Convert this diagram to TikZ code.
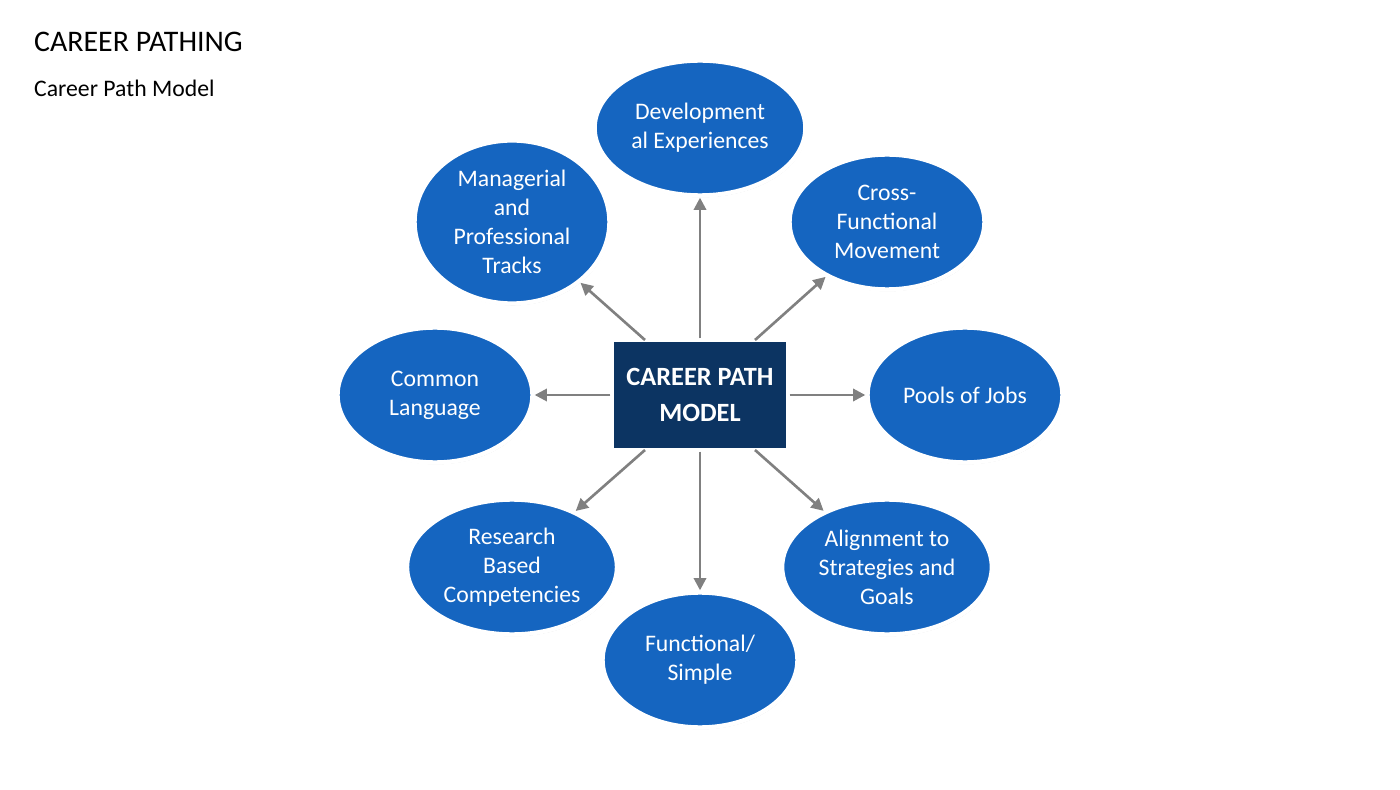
\documentclass[tikz,border=0pt]{standalone}
\usepackage{fontspec}
\setmainfont{Carlito}
\usetikzlibrary{shapes.geometric,arrows.meta,shadows}
\definecolor{ovalblue}{HTML}{1565C0}
\definecolor{boxnavy}{HTML}{0C3462}
\definecolor{arrowgrey}{HTML}{808080}
\tikzset{
  oval/.style={ellipse, draw=white, line width=2.5pt, fill=ovalblue,
    minimum width=3.9cm, minimum height=2.7cm, text=white, align=center,
    font=\fontsize{13.5}{16.5}\selectfont,
    drop shadow={shadow xshift=0.5pt, shadow yshift=-1pt, fill=black!45}},
  hub/.style={draw=white, line width=2pt, fill=boxnavy, minimum width=3.52cm,
    minimum height=2.2cm, text=white, align=center,
    font=\bfseries\fontsize{15}{20}\selectfont,
    drop shadow={shadow xshift=0.5pt, shadow yshift=-1pt, fill=black!45}},
  link/.style={->, >={Triangle[length=7pt,width=7pt]}, arrowgrey, line width=1.5pt}
}
\begin{document}
\begin{tikzpicture}[x=0.02cm,y=-0.02cm]
\useasboundingbox (0,0) rectangle (1400,790);
\node[anchor=west, font=\fontsize{17}{20}\selectfont] (title) at (28,42) {CAREER PATHING};
\node[anchor=west, font=\fontsize{13.5}{16}\selectfont] (sub) at (28,88) {Career Path Model};
\node[hub] (hub) at (700,395) {CAREER PATH\\MODEL};
\node[oval] (dev) at (700,128) {Development\\al Experiences};
\node[oval] (cross) at (887,222) {Cross-\\Functional\\Movement};
\node[oval] (pools) at (965,395) {Pools of Jobs};
\node[oval] (align) at (887,567) {Alignment to\\Strategies and\\Goals};
\node[oval] (func) at (700,660) {Functional/\\Simple};
\node[oval] (res) at (512,567) {Research\\Based\\Competencies};
\node[oval] (common) at (435,395) {Common\\Language};
\node[oval] (mgr) at (512,222) {Managerial\\and\\Professional\\Tracks};
% connectors
\draw[link] (hub.north) -- (dev);
\draw[link] (hub.east) -- (pools);
\draw[link] (hub.south) -- (func);
\draw[link] (hub.west) -- (common);
\draw[link] (645,340) -- (mgr);
\draw[link] (755,340) -- (cross);
\draw[link] (645,450) -- (res);
\draw[link] (755,450) -- (align);
\end{tikzpicture}
\end{document}
